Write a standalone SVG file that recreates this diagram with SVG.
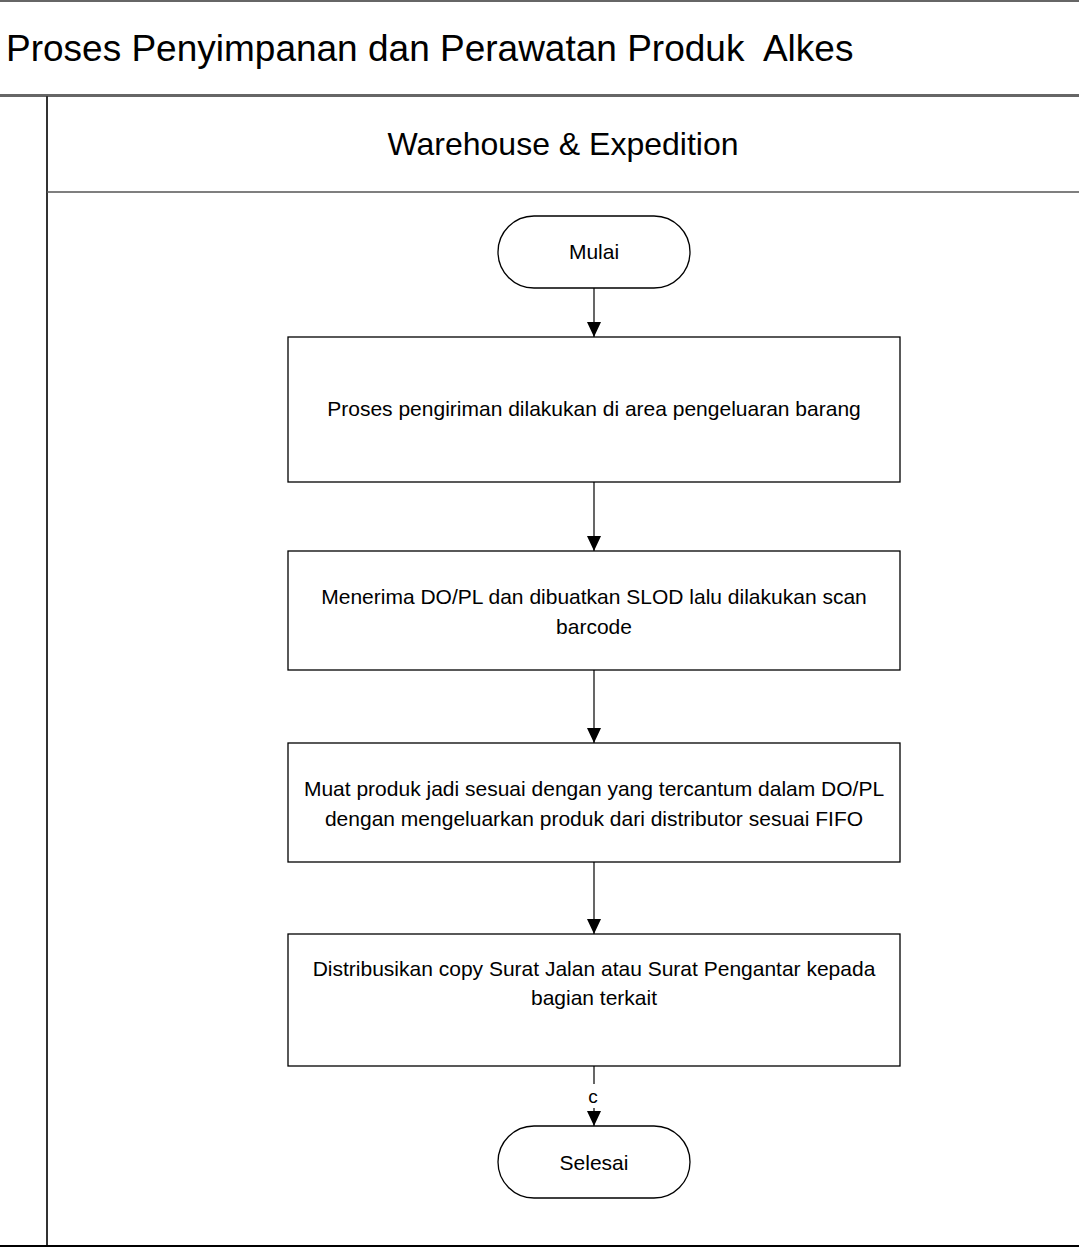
<svg xmlns="http://www.w3.org/2000/svg" width="1079" height="1249" viewBox="0 0 1079 1249">
<defs>
<marker id="arr" markerWidth="15" markerHeight="14" refX="15" refY="7" orient="auto" markerUnits="userSpaceOnUse" viewBox="0 0 15 14">
<path d="M0,0 L15,7 L0,14 Z" fill="#000"/>
</marker>
<style>
text{font-family:"Liberation Sans",Arial,sans-serif;fill:#000}
.box{fill:#fff;stroke:#000;stroke-width:1.3}
.t{font-size:21px;text-anchor:middle}
.conn{stroke:#000;stroke-width:1.2;fill:none;marker-end:url(#arr)}
</style>
</defs>
<rect width="1079" height="1249" fill="#fff"/>
<g id="frame">
<line x1="0" y1="1" x2="1079" y2="1" stroke="#666" stroke-width="2"/>
<text x="6" y="61" font-size="37" xml:space="preserve" style="white-space:pre">Proses Penyimpanan dan Perawatan Produk  Alkes</text>
<line x1="0" y1="95.5" x2="1079" y2="95.5" stroke="#666" stroke-width="3"/>
<line x1="47" y1="96" x2="47" y2="1246" stroke="#333" stroke-width="2"/>
<line x1="47" y1="192" x2="1079" y2="192" stroke="#555" stroke-width="1.5"/>
<text x="563" y="155" font-size="32" text-anchor="middle">Warehouse &amp; Expedition</text>
<line x1="0" y1="1246" x2="1079" y2="1246" stroke="#000" stroke-width="2"/>
</g>
<g id="connectors">
<line class="conn" x1="594" y1="288" x2="594" y2="337"/>
<line class="conn" x1="594" y1="482" x2="594" y2="551"/>
<line class="conn" x1="594" y1="670" x2="594" y2="743"/>
<line class="conn" x1="594" y1="862" x2="594" y2="934"/>
<line x1="594" y1="1066" x2="594" y2="1084" stroke="#000" stroke-width="1.2"/>
<line class="conn" x1="594" y1="1108" x2="594" y2="1126"/>
<text x="593" y="1103" font-size="19" text-anchor="middle">c</text>
</g>
<g id="mulai">
<rect class="box" x="498" y="216" width="192" height="72" rx="36" ry="36"/>
<text class="t" x="594" y="259">Mulai</text>
</g>
<g id="step1">
<rect class="box" x="288" y="337" width="612" height="145"/>
<text class="t" x="594" y="416">Proses pengiriman dilakukan di area pengeluaran barang</text>
</g>
<g id="step2">
<rect class="box" x="288" y="551" width="612" height="119"/>
<text class="t" x="594" y="604">Menerima DO/PL dan dibuatkan SLOD lalu dilakukan scan</text>
<text class="t" x="594" y="634">barcode</text>
</g>
<g id="step3">
<rect class="box" x="288" y="743" width="612" height="119"/>
<text class="t" x="594" y="796">Muat produk jadi sesuai dengan yang tercantum dalam DO/PL</text>
<text class="t" x="594" y="826">dengan mengeluarkan produk dari distributor sesuai FIFO</text>
</g>
<g id="step4">
<rect class="box" x="288" y="934" width="612" height="132"/>
<text class="t" x="594" y="976">Distribusikan copy Surat Jalan atau Surat Pengantar kepada</text>
<text class="t" x="594" y="1005">bagian terkait</text>
</g>
<g id="selesai">
<rect class="box" x="498" y="1126" width="192" height="72" rx="36" ry="36"/>
<text class="t" x="594" y="1170">Selesai</text>
</g>
</svg>
